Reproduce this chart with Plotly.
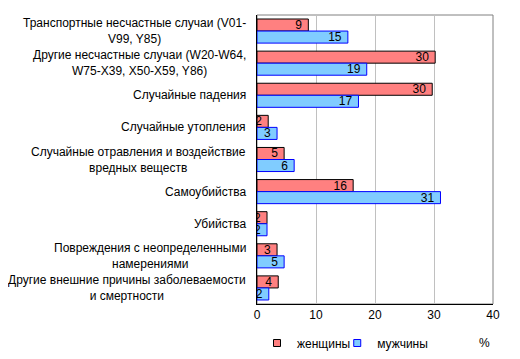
import plotly.graph_objects as go

categories = [
    "Транспортные несчастные случаи (V01-<br>V99, Y85)",
    "Другие несчастные случаи (W20-W64,<br>W75-X39, X50-X59, Y86)",
    "Случайные падения",
    "Случайные утопления",
    "Случайные отравления и воздействие<br>вредных веществ",
    "Самоубийства",
    "Убийства",
    "Повреждения с неопределенными<br>намерениями",
    "Другие внешние причины заболеваемости<br>и смертности",
]
women = [8.7, 30.2, 29.7, 1.9, 4.6, 16.3, 1.7, 3.4, 3.6]
men = [15.4, 18.6, 17.2, 3.4, 6.3, 31.1, 1.7, 4.6, 2.0]
x_ticks = [0, 10, 20, 30, 40]
series_names = ["женщины", "мужчины"]
unit_label = "%"

FONT = "Liberation Sans, Arial, sans-serif"
ids = list(range(len(categories)))
fills = ["#FF8080", "#80CCFF"]
edges = ["#000000", "#0000FF"]
legend_ids = ["legend", "legend2"]
legend_x = [0.0, 0.34]

fig = go.Figure()
for vals, name, fc, ec in zip([women, men], series_names, fills, edges):
    fig.add_trace(go.Bar(
        y=ids, x=vals, orientation="h", name=name, showlegend=False,
        marker=dict(color=fc, line=dict(color=ec, width=1)),
        texttemplate="%{x:.0f} ", textposition="inside", insidetextanchor="end",
        textangle=0, constraintext="none",
        textfont=dict(color="#000000", size=12, family=FONT),
    ))
for name, fc, ec, lg in zip(series_names, fills, edges, legend_ids):
    fig.add_trace(go.Scatter(
        x=[None], y=[None], mode="markers", name=name, legend=lg,
        marker=dict(symbol="square", size=7, color=fc, line=dict(color=ec, width=1)),
    ))

annotations = []
for i, c in enumerate(categories):
    annotations.append(dict(
        x=-0.04, xref="paper", y=i, yref="y", text=c, showarrow=False,
        xanchor="right", yanchor="middle", align="center",
        font=dict(size=12, family=FONT, color="#000000"),
    ))
annotations.append(dict(
    x=0.965, xref="paper", y=-0.135, yref="paper", text=unit_label,
    showarrow=False, xanchor="center", yanchor="middle",
    font=dict(size=12, family=FONT, color="#000000"),
))

legend_style = dict(orientation="h", xanchor="left", y=-0.135, yanchor="middle",
                    itemwidth=30, font=dict(size=12, family=FONT, color="#000000"),
                    itemclick=False, itemdoubleclick=False,
                    bgcolor="rgba(0,0,0,0)")

# figure is placed 8px in from the page's top-left corner by the body margin
fig.update_layout(
    width=512, height=351,
    margin=dict(l=249, r=27, t=7, b=55, autoexpand=False),
    paper_bgcolor="white", plot_bgcolor="white",
    barmode="group", bargap=0.25, bargroupgap=0,
    font=dict(family=FONT, size=12, color="#000000"),
    uniformtext=dict(minsize=12, mode="show"),
    showlegend=True,
    legend=dict(x=legend_x[0], **legend_style),
    legend2=dict(x=legend_x[1], **legend_style),
    annotations=annotations,
    shapes=[dict(type="rect", xref="paper", yref="paper", x0=0, x1=1, y0=0, y1=1,
                 line=dict(color="#808080", width=1), layer="below")],
)
fig.update_xaxes(range=[0, 40], tickvals=x_ticks, showgrid=True, gridcolor="#C0C0C0",
                 gridwidth=1, showline=True, linecolor="#000000", linewidth=1,
                 zeroline=False, ticks="", tickfont=dict(size=12, family=FONT),
                 fixedrange=True)
fig.update_yaxes(range=[len(categories) - 0.5, -0.5], tickvals=ids, showticklabels=False,
                 showgrid=False, showline=True, linecolor="#000000", linewidth=1,
                 zeroline=False, ticks="", fixedrange=True)

fig.write_html("out.html")
